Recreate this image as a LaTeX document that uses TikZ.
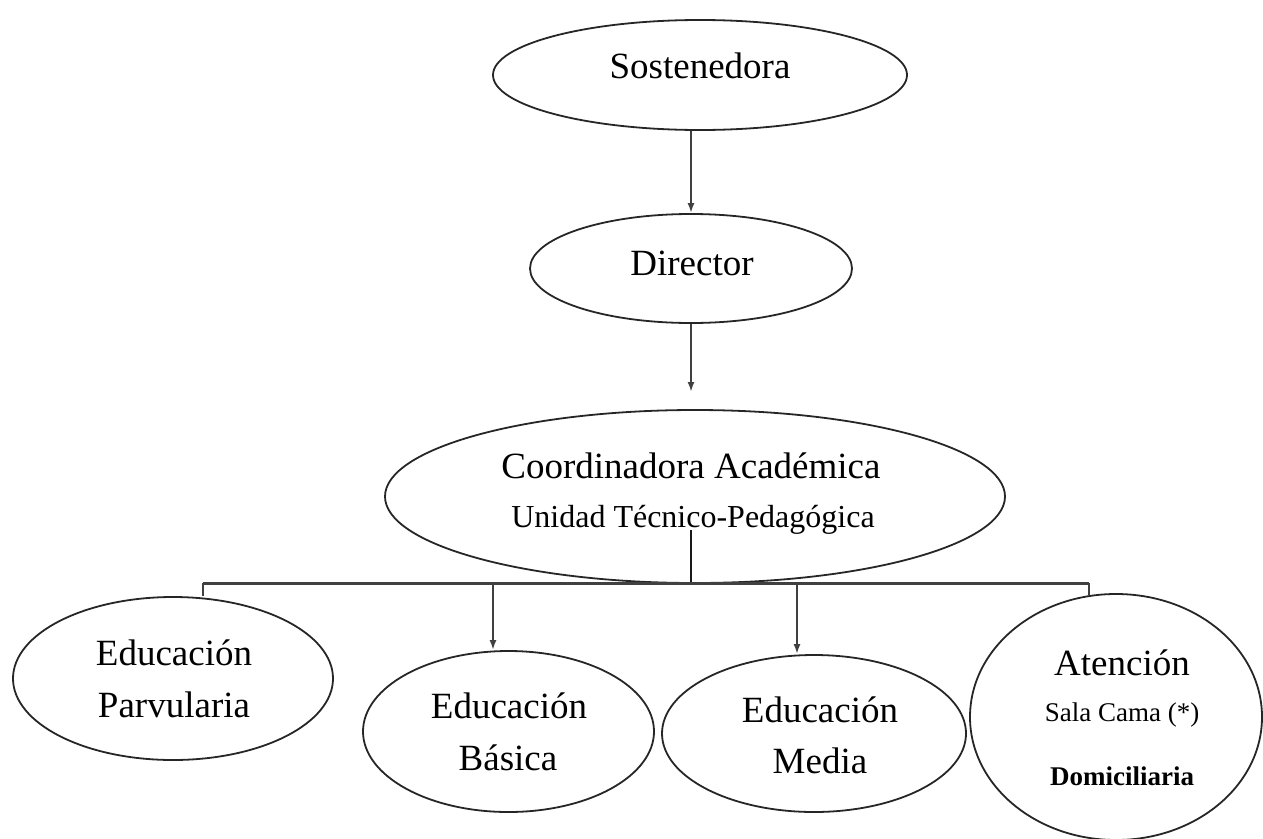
\documentclass[tikz,border=0pt]{standalone}
\usepackage{fontspec}
\setmainfont{Liberation Serif}
\usetikzlibrary{shapes.geometric,arrows.meta}
\begin{document}
\begin{tikzpicture}[x=1pt,y=-1pt,
  oval/.style={ellipse, draw=black!85, line width=1.8pt, inner sep=0pt},
  big/.style={font=\fontsize{37}{40}\selectfont, anchor=base, inner sep=0pt},
  sub/.style={font=\fontsize{32}{36}\selectfont, anchor=base, inner sep=0pt},
  small/.style={font=\fontsize{27}{30}\selectfont, anchor=base, inner sep=0pt},
  conn/.style={line width=2pt, draw=black!75},
  arr/.style={conn, -{Latex[length=10pt,width=7pt]}},
  hbar/.style={line width=3pt, draw=black!75}]
\useasboundingbox (0,0) rectangle (1263,838);

% ellipses
\node[oval, minimum width=414pt, minimum height=110pt] (sost) at (700,75) {};
\node[oval, minimum width=322pt, minimum height=109pt] (dir) at (691,268.5) {};
\node[oval, minimum width=620pt, minimum height=173pt] (coord) at (695,496.5) {};
\node[oval, minimum width=320pt, minimum height=163pt] (parv) at (173,678.5) {};
\node[oval, minimum width=291pt, minimum height=161pt] (bas) at (508.5,731.5) {};
\node[oval, minimum width=304pt, minimum height=157pt] (med) at (814,733.5) {};
\node[oval, minimum width=292pt, minimum height=246pt] (ate) at (1116,717) {};

% texts
\node[big] (tsost) at (700,78) {Sostenedora};
\node[big] (tdir) at (692,275) {Director};
\node[big] (tcoord1) at (691,478) {Coordinadora Académica};
\node[sub] (tcoord2) at (693,527) {Unidad Técnico-Pedagógica};
\node[big] (tparv1) at (174,665) {Educación};
\node[big] (tparv2) at (174,717) {Parvularia};
\node[big] (tbas1) at (509,718) {Educación};
\node[big] (tbas2) at (508,770) {Básica};
\node[big] (tmed1) at (820,722) {Educación};
\node[big] (tmed2) at (820,773) {Media};
\node[big] (tate1) at (1122,675) {Atención};
\node[small] (tate2) at (1122,721) {Sala Cama (*)};
\node[small, font=\fontsize{27}{30}\selectfont\bfseries] (tate3) at (1122,785) {Domiciliaria};

% connector coordinates
\coordinate (dtip) at (691,392);
\coordinate (stem) at (691,530);
\coordinate (bl) at (203,583);
\coordinate (bm) at (691,583);
\coordinate (b1) at (493,583);
\coordinate (b2) at (797,583);
\coordinate (br) at (1089,583);

% connectors
\draw[arr] (sost.south -| dir.north) -- (dir.north);
\draw[arr] (dir.south) -- (dtip);
\draw[conn, line width=2.4pt, draw=black!90] (stem) -- (bm);
\draw[hbar] (bl) -- (br);
\draw[conn] (bl) -- (bl |- parv.north);
\draw[conn] (br) -- ([yshift=-2pt]br |- ate.north);
\draw[arr] (b1) -- (b1 |- bas.north);
\draw[arr] (b2) -- (b2 |- med.north);
\end{tikzpicture}
\end{document}
